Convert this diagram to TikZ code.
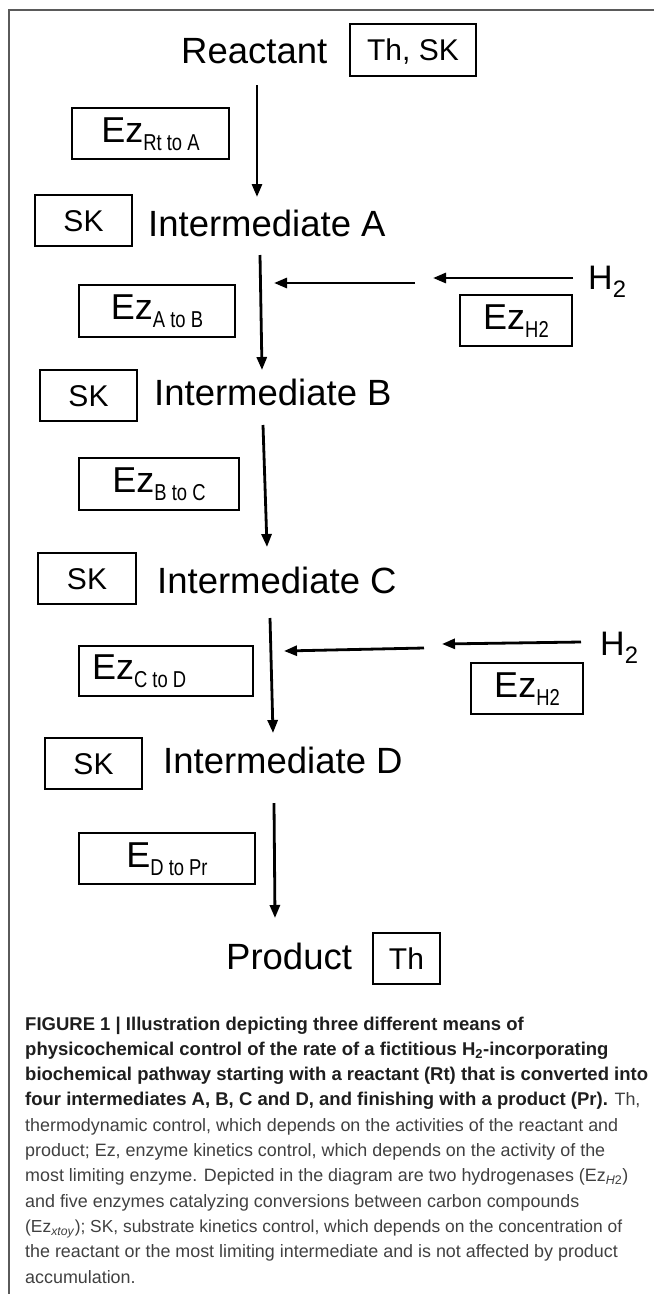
\documentclass[tikz,border=0pt]{standalone}
\usepackage{fontspec}
\usepackage{graphicx}
\setmainfont{Liberation Sans}
\newfontfamily\narrowfont[FakeStretch=0.8]{Liberation Sans}
\usetikzlibrary{arrows.meta}
\definecolor{framegray}{RGB}{90,90,90}
\definecolor{capbold}{RGB}{30,30,30}
\definecolor{capreg}{RGB}{64,64,64}
\newcommand{\ezsub}[1]{\raisebox{-8pt}{\fontsize{23}{23}\narrowfont #1}}
\newcommand{\cb}[1]{{\fontsize{18.5}{22}\selectfont\bfseries\color{capbold}#1}}
\begin{document}
\begin{tikzpicture}[x=1pt,y=-1pt,
  lbox/.style={draw, line width=2.3pt, inner sep=0pt, anchor=center,
    font=\fontsize{30}{30}\selectfont, text height=21.5pt, text depth=0pt},
  ezbox/.style={lbox, font=\fontsize{36}{36}\selectfont, text height=26pt, text depth=9pt},
  lab/.style={anchor=base west, inner sep=0pt, font=\fontsize{36.5}{40}\selectfont},
  arr/.style={line width=2.8pt, -{Triangle[length=13pt,width=10pt]}},
  capl/.style={anchor=base west, inner sep=0pt, font=\fontsize{17.9}{22}\selectfont, text=capreg}]
\useasboundingbox (0,0) rectangle (654,1294);
% frame
\draw[framegray, line width=1.8pt] (654,10) -- (9,10) -- (9,1294);

% main labels
\node[lab] (react) at (181,63) {Reactant};
\node[lab] (intA) at (148,236) {Intermediate A};
\node[lab] (intB) at (154,405) {Intermediate B};
\node[lab] (intC) at (157,593) {Intermediate C};
\node[lab] (intD) at (163,773) {Intermediate D};
\node[lab] (prod) at (226,969) {Product};
\node[lab, font=\fontsize{34}{36}\selectfont] (h2a) at (588,289) {H\textsubscript{2}};
\node[lab, font=\fontsize{34}{36}\selectfont] (h2b) at (600,655) {H\textsubscript{2}};

% boxes
\node[lbox, minimum width=126pt, minimum height=52pt] (thsk) at (413,50) {Th, SK};
\node[ezbox, minimum width=157pt, minimum height=51pt] (ezRA) at (150.5,133.5) {Ez\ezsub{Rt to A}};
\node[lbox, minimum width=97pt, minimum height=51pt] (skA) at (83.5,220.5) {SK};
\node[ezbox, minimum width=156pt, minimum height=52pt] (ezAB) at (157,311) {Ez\ezsub{A to B}};
\node[ezbox, minimum width=112pt, minimum height=51pt] (ezH1) at (516,320.5) {Ez\ezsub{H2}};
\node[lbox, minimum width=97pt, minimum height=51pt] (skB) at (88.5,395.5) {SK};
\node[ezbox, minimum width=160pt, minimum height=52pt] (ezBC) at (159,484) {Ez\ezsub{B to C}};
\node[lbox, minimum width=98pt, minimum height=51pt] (skC) at (87,578.5) {SK};
\node[ezbox, minimum width=174pt, minimum height=50pt] (ezCD) at (166,671) {\makebox[148pt][l]{Ez\ezsub{C to D}}};
\node[ezbox, minimum width=112pt, minimum height=51pt] (ezH2) at (527,688.5) {Ez\ezsub{H2}};
\node[lbox, minimum width=97pt, minimum height=51pt] (skD) at (93.5,763.5) {SK};
\node[ezbox, minimum width=176pt, minimum height=51pt] (edPr) at (167,858.5) {E\ezsub{D to Pr}};
\node[lbox, minimum width=67pt, minimum height=51pt] (th) at (406.5,958.5) {Th};

% arrow end points
\coordinate (a1s) at (257,85);  \coordinate (a1e) at (257,197);
\coordinate (a2s) at (260,255); \coordinate (a2e) at (262,370);
\coordinate (a3s) at (263,425); \coordinate (a3e) at (267,547);
\coordinate (a4s) at (270,618); \coordinate (a4e) at (273,733);
\coordinate (a5s) at (274,803); \coordinate (a5e) at (275,918);
\coordinate (h1s) at (573,278); \coordinate (h1m) at (433,278);
\coordinate (h1n) at (415,283); \coordinate (h1e) at (274,283);
\coordinate (h2s) at (581,642); \coordinate (h2m) at (442,644);
\coordinate (h2n) at (424,648); \coordinate (h2e) at (284,651);

\draw[arr] (a1s) -- (a1e);
\draw[arr] (a2s) -- (a2e);
\draw[arr] (a3s) -- (a3e);
\draw[arr] (a4s) -- (a4e);
\draw[arr] (a5s) -- (a5e);
\draw[arr] (h1s) -- (h1m);
\draw[arr] (h1n) -- (h1e);
\draw[arr] (h2s) -- (h2m);
\draw[arr] (h2n) -- (h2e);

% caption
\node[capl] (c1) at (25,1030) {\cb{FIGURE 1 | Illustration depicting three different means of}};
\node[capl] (c2) at (25,1055.3) {\cb{physicochemical control of the rate of a fictitious H\textsubscript{2}-incorporating}};
\node[capl] (c3) at (25,1080.6) {\cb{biochemical pathway starting with a reactant (Rt) that is converted into}};
\node[capl] (c4) at (25,1105.9) {\cb{four intermediates A, B, C and D, and finishing with a product (Pr).} Th,};
\node[capl] (c5) at (25,1131.2) {thermodynamic control, which depends on the activities of the reactant and};
\node[capl] (c6) at (25,1156.5) {product; Ez, enzyme kinetics control, which depends on the activity of the};
\node[capl] (c7) at (25,1181.8) {most limiting enzyme. Depicted in the diagram are two hydrogenases (Ez\textsubscript{\textit{H}2})};
\node[capl] (c8) at (25,1207.1) {and five enzymes catalyzing conversions between carbon compounds};
\node[capl, font=\fontsize{17.4}{22}\selectfont] (c9) at (25,1232.4) {(Ez\textsubscript{\textit{xtoy}}); SK, substrate kinetics control, which depends on the concentration of};
\node[capl] (c10) at (25,1257.7) {the reactant or the most limiting intermediate and is not affected by product};
\node[capl] (c11) at (25,1283) {accumulation.};
\end{tikzpicture}
\end{document}
